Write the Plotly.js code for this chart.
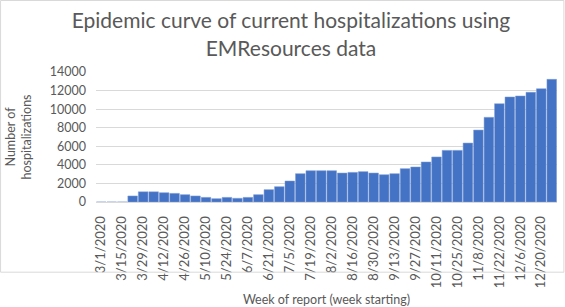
<!DOCTYPE html>
<html><head><meta charset="utf-8">
<script src="https://cdn.plot.ly/plotly-3.0.1.min.js"></script>
<style>html,body{margin:0;padding:0;background:#fff}#c{width:565px;height:307px}</style>
</head><body><div id="c"></div>
<script>
const weeks = ["3/1/2020","3/8/2020","3/15/2020","3/22/2020","3/29/2020","4/5/2020","4/12/2020","4/19/2020","4/26/2020","5/3/2020","5/10/2020","5/17/2020","5/24/2020","5/31/2020","6/7/2020","6/14/2020","6/21/2020","6/28/2020","7/5/2020","7/12/2020","7/19/2020","7/26/2020","8/2/2020","8/9/2020","8/16/2020","8/23/2020","8/30/2020","9/6/2020","9/13/2020","9/20/2020","9/27/2020","10/4/2020","10/11/2020","10/18/2020","10/25/2020","11/1/2020","11/8/2020","11/15/2020","11/22/2020","11/29/2020","12/6/2020","12/13/2020","12/20/2020","12/27/2020"];
const hospitalizations = [0,0,0,650,1100,1100,1000,930,790,650,500,360,500,400,500,790,1330,1650,2260,3050,3370,3370,3370,3120,3190,3270,3120,2940,3050,3590,3770,4310,4850,5560,5560,6350,7750,9120,10590,11310,11420,11810,12200,13210];
const tickLabels = ["3/1/2020","3/15/2020","3/29/2020","4/12/2020","4/26/2020","5/10/2020","5/24/2020","6/7/2020","6/21/2020","7/5/2020","7/19/2020","8/2/2020","8/16/2020","8/30/2020","9/13/2020","9/27/2020","10/11/2020","10/25/2020","11/8/2020","11/22/2020","12/6/2020","12/20/2020"];
const yTicks = [0,2000,4000,6000,8000,10000,12000,14000];

const font = "Lato, 'Open Sans', sans-serif";
Plotly.newPlot('c', [{
  type: 'bar', x: weeks, y: hospitalizations,
  marker: {color: '#4472C4', line: {color: '#7f9fd8', width: 0.5}},
  hoverinfo: 'x+y'
}], {
  width: 565, height: 307,
  margin: {l: 96, r: 8, t: 72, b: 105},
  paper_bgcolor: '#fff', plot_bgcolor: '#fff',
  bargap: 0.08,
  font: {family: font, color: '#595959', size: 12},
  title: {text: 'Epidemic curve of current hospitalizations using<br>EMResources data', x: 0.515, xanchor: 'center', y: 0.908, yanchor: 'middle', font: {family: font, size: 21, color: '#595959'}},
  xaxis: {type: 'category', tickmode: 'array', tickvals: tickLabels, ticktext: tickLabels, tickangle: -90,
    showline: true, linecolor: '#d9d9d9', linewidth: 1, ticks: '', showgrid: false, ticklabelstandoff: 8,
    tickfont: {size: 13, color: '#595959'},
    title: {text: 'Week of report (week starting)', font: {size: 12.5, color: '#595959'}, standoff: 11}},
  yaxis: {range: [0, 14000], tickvals: yTicks, tickformat: 'd', showgrid: true, gridcolor: '#d9d9d9', gridwidth: 1,
    zeroline: false, showline: false, ticks: '', tickfont: {size: 12.5, color: '#595959'}, ticklabelstandoff: 9,
    title: {text: 'Number of<br>hospitalizations', font: {size: 12.5, color: '#595959'}, standoff: 15}},
  shapes: [{type: 'rect', xref: 'paper', yref: 'paper', x0: -0.207, x1: 1.015, y0: -0.54, y1: 1.55, line: {color: '#d9d9d9', width: 1}}],
  showlegend: false
}, {displayModeBar: false, staticPlot: true});
</script></body></html>
